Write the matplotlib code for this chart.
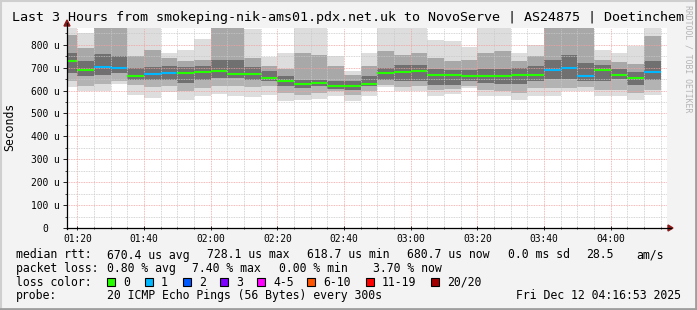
import matplotlib
matplotlib.use('Agg')
import matplotlib.pyplot as plt
from matplotlib.lines import Line2D
from matplotlib.patches import Rectangle, Polygon
from matplotlib.ticker import MultipleLocator, FuncFormatter

W, H = 697, 310
MONO = 'DejaVu Sans Mono'

# 5 minute blocks, minutes after midnight (01:15 .. 04:10)
block_start = list(range(75, 255, 5))

# rtt distribution per block, microseconds
rtt_min = [614, 597, 597, 628, 582, 568, 593, 560, 575, 583, 575, 573, 582, 555, 560, 562, 577, 555,
           575, 616, 598, 600, 575, 585, 610, 578, 575, 560, 575, 578, 596, 597, 575, 575, 560, 582]
rtt_p10 = [640, 618, 630, 640, 626, 616, 618, 597, 611, 620, 618, 614, 618, 590, 582, 590, 596, 582,
           596, 625, 614, 618, 604, 605, 620, 604, 600, 590, 610, 611, 611, 615, 604, 604, 590, 604]
rtt_p25 = [677, 662, 667, 677, 648, 648, 648, 633, 648, 655, 655, 648, 640, 618, 611, 618, 608, 604,
           618, 648, 643, 643, 625, 626, 640, 633, 630, 630, 640, 650, 650, 640, 640, 650, 625, 648]
rtt_med = [728.1, 688, 704, 700, 665, 671, 675, 675, 679, 684, 671, 671, 653, 640, 627, 631, 618.7, 621,
           627, 675, 681, 684, 669, 669, 665, 662, 665, 669, 669, 691, 697, 665, 688, 670, 656, 680.7]
rtt_p75 = [764, 727, 759, 749, 700, 701, 706, 703, 706, 735, 735, 703, 684, 662, 648, 648, 640, 640,
           662, 700, 713, 713, 692, 688, 688, 692, 692, 700, 706, 735, 757, 721, 710, 692, 680, 728]
rtt_p90 = [844, 786, 920, 920, 749, 776, 742, 730, 735, 920, 920, 742, 706, 692, 764, 757, 706, 669,
           706, 771, 757, 764, 742, 728, 735, 764, 771, 730, 749, 920, 920, 920, 735, 725, 717, 837]
rtt_max = [873, 851, 920, 920, 880, 880, 762, 779, 826, 920, 920, 868, 745, 764, 876, 873, 749, 685,
           764, 876, 876, 876, 820, 815, 789, 873, 873, 764, 800, 920, 920, 920, 776, 764, 796, 873]
# lost pings (of 20) per block
lost = [0, 0, 1, 1, 0, 1, 1, 0, 0, 0, 0, 0, 0, 0, 0, 0, 0, 0,
        0, 0, 0, 0, 0, 0, 0, 0, 0, 0, 0, 1, 1, 1, 0, 0, 0, 1]

loss_labels = ['0', '1', '2', '3', '4-5', '6-10', '11-19', '20/20']
loss_colors = ['#26ff00', '#00b8ff', '#0059ff', '#7e00ff', '#ff00ff', '#ff5500', '#ff0000', '#a10000']

stats_rtt = ['670.4 us avg', '728.1 us max', '618.7 us min', '680.7 us now', '0.0 ms sd', '28.5', 'am/s']
stats_loss = ['0.80 % avg', '7.40 % max', '0.00 % min', '3.70 % now']


def fx(x):
    return x / W


def fy(y):
    return 1 - y / H


fig = plt.figure(figsize=(W / 100, H / 100), dpi=100)
fig.set_facecolor('#f3f3f3')

ax = fig.add_axes([fx(67), fy(228), 600 / W, 200 / H])
ax.set_facecolor('white')
ax.set_xlim(76 + 53 / 60, 256 + 53 / 60)
ax.set_ylim(0, 873)

# smoke
bands = [(rtt_min, rtt_p10, '#dddddd'), (rtt_p10, rtt_p25, '#b3b3b3'),
         (rtt_p25, rtt_med, '#707070'), (rtt_med, rtt_p75, '#707070'),
         (rtt_p75, rtt_p90, '#a8a8a8'), (rtt_p90, rtt_max, '#dddddd')]
for lo, hi, c in bands:
    ax.bar(block_start, [h - l for l, h in zip(lo, hi)], bottom=lo, width=5, align='edge',
           color=c, linewidth=0, zorder=1)

# median lines coloured by loss
for t, m, n in zip(block_start, rtt_med, lost):
    ax.hlines(m, t, t + 5, colors=loss_colors[min(n, 7)], linewidth=1.5, zorder=4)

# grid
ax.xaxis.set_major_locator(MultipleLocator(20))
ax.xaxis.set_minor_locator(MultipleLocator(5))
ax.yaxis.set_major_locator(MultipleLocator(100))
ax.yaxis.set_minor_locator(MultipleLocator(50))
ax.grid(which='minor', color='#c8c8c8', linestyle=(0, (1, 1)), linewidth=0.6, zorder=2)
ax.grid(which='major', color='#f4a0a0', linestyle=(0, (1, 1)), linewidth=0.6, zorder=3)

ax.xaxis.set_major_formatter(FuncFormatter(lambda v, p: '%02d:%02d' % (int(v) // 60, int(v) % 60)))
ax.yaxis.set_major_formatter(FuncFormatter(lambda v, p: '0  ' if v == 0 else '%d u' % v))
ax.tick_params(axis='both', which='both', labelsize=6.9, colors='black')
ax.tick_params(axis='y', which='major', direction='out', length=3, width=0.6, pad=2)
ax.tick_params(axis='y', which='minor', direction='out', length=1.5, width=0.5)
ax.tick_params(axis='x', which='major', direction='inout', length=3, width=0.6, pad=3)
ax.tick_params(axis='x', which='minor', direction='inout', length=1.5, width=0.5)
for lab in ax.get_xticklabels() + ax.get_yticklabels():
    lab.set_fontfamily(MONO)
for s in ax.spines.values():
    s.set_visible(False)

# axes lines with arrows
fig.add_artist(Line2D([fx(67), fx(671)], [fy(228), fy(228)], color='black', lw=0.9))
fig.add_artist(Line2D([fx(67), fx(67)], [fy(229), fy(23)], color='black', lw=0.9))
fig.add_artist(Polygon([[fx(668), fy(225)], [fx(673), fy(228)], [fx(668), fy(231)]],
                       closed=True, color='#8b1a1a'))
fig.add_artist(Polygon([[fx(64), fy(26)], [fx(67), fy(20)], [fx(70), fy(26)]],
                       closed=True, color='#8b1a1a'))

# frame
fig.add_artist(Line2D([0, 1], [fy(1), fy(1)], color='#cfcfcf', lw=1.5))
fig.add_artist(Line2D([fx(1), fx(1)], [0, 1], color='#cfcfcf', lw=1.5))
fig.add_artist(Line2D([0, 1], [fy(309), fy(309)], color='#9e9e9e', lw=2))
fig.add_artist(Line2D([fx(696), fx(696)], [0, 1], color='#9e9e9e', lw=2))

# texts
fig.text(fx(348), fy(17), 'Last 3 Hours from smokeping-nik-ams01.pdx.net.uk to NovoServe | AS24875 | Doetinchem',
         ha='center', va='center', fontsize=9.6, family=MONO)
fig.text(fx(10), fy(127), 'Seconds', rotation=90, ha='center', va='center', fontsize=8.3, family=MONO)
fig.text(fx(688), fy(59), 'RRDTOOL / TOBI OETIKER', rotation=270, ha='center', va='center',
         fontsize=5.9, family=MONO, color='#b4b4b4')

leg = dict(fontsize=8.3, family=MONO, va='center', ha='left')
fig.text(fx(16), fy(255), 'median rtt:', **leg)
for x, s in zip([107, 207, 307, 407, 508, 586, 636], stats_rtt):
    fig.text(fx(x), fy(255), s, **leg)
fig.text(fx(16), fy(268.5), 'packet loss:', **leg)
for x, s in zip([107, 192, 279, 373], stats_loss):
    fig.text(fx(x), fy(268.5), s, **leg)
fig.text(fx(16), fy(282.3), 'loss color:', **leg)
for x, lab, c in zip([107, 145, 183, 220, 257, 307, 366, 431], loss_labels, loss_colors):
    fig.add_artist(Rectangle((fx(x), fy(286)), 8 / W, 8 / H, facecolor=c, edgecolor='black', lw=0.8))
    fig.text(fx(x + 16), fy(282.3), lab, **leg)
fig.text(fx(16), fy(295.7), 'probe:', **leg)
fig.text(fx(107), fy(295.7), '20 ICMP Echo Pings (56 Bytes) every 300s', **leg)
fig.text(fx(681), fy(295.7), 'Fri Dec 12 04:16:53 2025', fontsize=8.3, family=MONO, va='center', ha='right')

fig.savefig('out.png', dpi=100, facecolor=fig.get_facecolor())
